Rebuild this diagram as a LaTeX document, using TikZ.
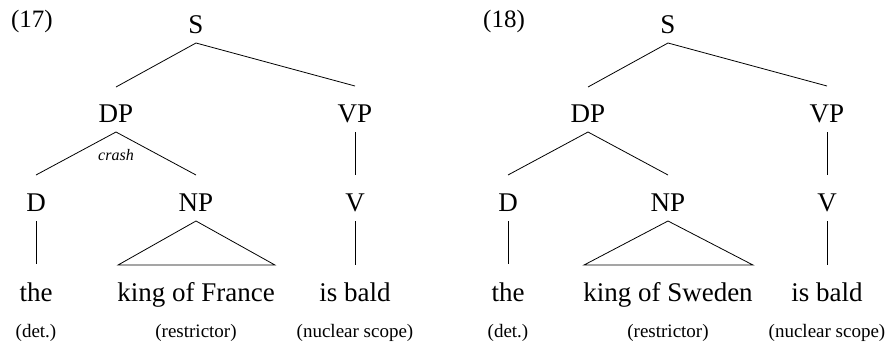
\documentclass[tikz,border=0pt]{standalone}
\usepackage{fontspec}
\setmainfont{Liberation Serif}
\usetikzlibrary{calc}
\begin{document}
\begin{tikzpicture}[x=1pt,y=-1pt,
  lab/.style={inner sep=0,anchor=base,font=\fontsize{27}{30}\selectfont},
  num/.style={inner sep=0,anchor=base,font=\fontsize{25}{28}\selectfont},
  note/.style={inner sep=0,anchor=base,font=\fontsize{19}{22}\selectfont},
  crashlab/.style={inner sep=0,anchor=base,font=\fontsize{16}{18}\itshape\selectfont},
  edge/.style={line width=0.8pt,line join=miter}]
\useasboundingbox (0,0) rectangle (887,346);
% ---------- (17) ----------
\node[num] (n17) at (32,27) {(17)};
\node[lab] (S1) at (196,33) {S};
\node[lab] (DP1) at (116,122) {DP};
\node[lab] (VP1) at (355,122) {VP};
\node[lab] (D1) at (36,211) {D};
\node[lab] (NP1) at (196,211) {NP};
\node[lab] (V1) at (355,211) {V};
\node[lab] (the1) at (36,301) {the};
\node[lab] (king1) at (196,301) {king of France};
\node[lab] (bald1) at (355,301) {is bald};
\node[note] (det1) at (36,337) {(det.)};
\node[note] (res1) at (196,337) {(restrictor)};
\node[note] (nuc1) at (355,337) {(nuclear scope)};
\node[crashlab] (crash1) at (116,160) {crash};
\draw[edge] ($(DP1.base)+(0,-35)$) -- ($(S1.base)+(0,10)$) -- ($(VP1.base)+(0,-36)$);
\draw[edge] ($(D1.base)+(0,-36)$) -- ($(DP1.base)+(0,10)$) -- ($(NP1.base)+(0,-36)$);
\draw[edge] ($(VP1.base)+(0,10)$) -- ($(V1.base)+(0,-36)$);
\draw[edge] ($(D1.base)+(0,10)$) -- ($(the1.base)+(0,-37)$);
\draw[edge] ($(V1.base)+(0,10)$) -- ($(bald1.base)+(0,-36)$);
\draw[edge] ($(NP1.base)+(0,10)$) -- ($(king1.base west)+(1,-36)$) -- ($(king1.base east)+(0,-36)$) -- cycle;
% ---------- (18) ----------
\node[num] (n18) at (504,27) {(18)};
\node[lab] (S2) at (668,33) {S};
\node[lab] (DP2) at (588,122) {DP};
\node[lab] (VP2) at (827,122) {VP};
\node[lab] (D2) at (508,211) {D};
\node[lab] (NP2) at (668,211) {NP};
\node[lab] (V2) at (827,211) {V};
\node[lab] (the2) at (508,301) {the};
\node[lab] (king2) at (668,301) {king of Sweden};
\node[lab] (bald2) at (827,301) {is bald};
\node[note] (det2) at (508,337) {(det.)};
\node[note] (res2) at (668,337) {(restrictor)};
\node[note] (nuc2) at (827,337) {(nuclear scope)};
\draw[edge] ($(DP2.base)+(0,-35)$) -- ($(S2.base)+(0,10)$) -- ($(VP2.base)+(0,-36)$);
\draw[edge] ($(D2.base)+(0,-36)$) -- ($(DP2.base)+(0,10)$) -- ($(NP2.base)+(0,-36)$);
\draw[edge] ($(VP2.base)+(0,10)$) -- ($(V2.base)+(0,-36)$);
\draw[edge] ($(D2.base)+(0,10)$) -- ($(the2.base)+(0,-37)$);
\draw[edge] ($(V2.base)+(0,10)$) -- ($(bald2.base)+(0,-36)$);
\draw[edge] ($(NP2.base)+(0,10)$) -- ($(king2.base west)+(1,-36)$) -- ($(king2.base east)+(0,-36)$) -- cycle;
\end{tikzpicture}
\end{document}
